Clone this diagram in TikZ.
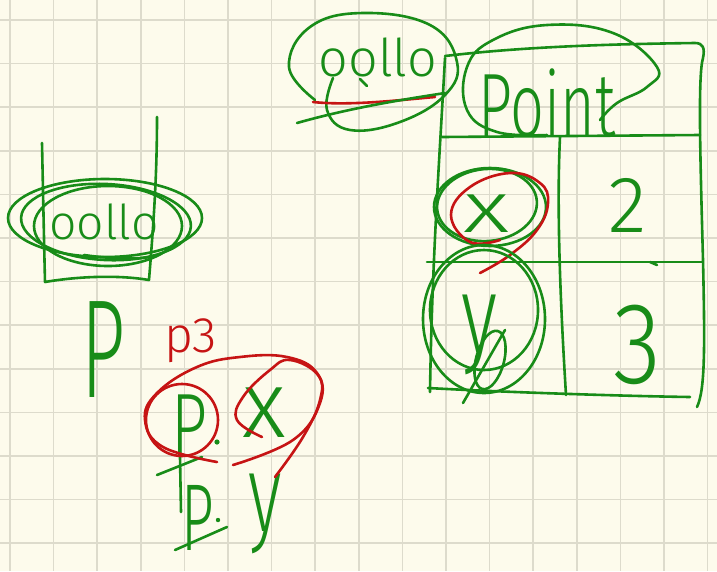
\documentclass[tikz,border=0pt]{standalone}
\usepackage{fontspec}
\IfFontExistsTF{Fira Sans Light}{\setmainfont{Fira Sans Light}}{\setmainfont{Fira Sans}}
\definecolor{paper}{RGB}{253,251,236}
\definecolor{gridc}{RGB}{221,219,204}
\definecolor{ink}{RGB}{24,140,24}
\definecolor{redink}{RGB}{198,20,20}
\tikzset{
  pen/.style={draw=ink, line width=2.6pt, line cap=round, line join=round},
  redpen/.style={pen, draw=redink},
  hand/.style={text=ink, inner sep=0pt, outer sep=0pt},
  redhand/.style={hand, text=redink},
}
\newcommand{\fsz}[1]{\fontsize{#1}{#1}\selectfont}
\begin{document}
\begin{tikzpicture}[x=1pt,y=-1pt]
% paper and squared grid
\fill[paper] (0,0) rectangle (717,571);
\useasboundingbox (0,0) rectangle (717,571);
\foreach \k in {0,...,16} \draw[gridc, line width=1.6pt] ({10+43.6*\k},0) -- ({10+43.6*\k},571);
\foreach \k in {0,...,12} \draw[gridc, line width=1.6pt] (0,{20+43.6*\k}) -- (717,{20+43.6*\k});

% ---- left: box holding 00110 ----
\draw[pen] (42,143) .. controls (43,190) and (44,240) .. (45,282)
  .. controls (80,276) and (120,275) .. (149,280)
  .. controls (153,230) and (157,180) .. (157,117);
\node[hand, font=\fsz{48}] (lbits) at (104,222) {oollo};
\draw[pen] (105,218) ellipse [x radius=97, y radius=39];
\draw[pen, rotate around={-3:(106,222)}] (106,222) ellipse [x radius=85, y radius=38];
\draw[pen] (108,226) ellipse [x radius=74, y radius=40];
\draw[pen] (84,255) .. controls (105,258) and (130,260) .. (150,257);

\node[hand, font=\fsz{140}, xscale=0.55] (bigP) at (103,350) {P};

% ---- left: p3 and its fields ----
\node[redhand, font=\fsz{50}, anchor=base] (pthree) at (191,352) {p3};
\node[hand, font=\fsz{90}, xscale=0.7] (fieldP) at (189,426) {P};
\fill[ink] (217,442) circle (2.6);
\draw[pen] (180,457) -- (181,512);
\draw[pen] (157,475) -- (202,457);
\node[hand, font=\fsz{95}, xscale=0.6] (fieldPb) at (198,518) {P};
\fill[ink] (218,520) circle (2.2);
\draw[pen] (175,550) -- (227,527);
\node[hand, font=\fsz{95}] (fieldx) at (264,413) {x};
\node[hand, font=\fsz{110}, xscale=0.65] (fieldy) at (265,514) {y};

% red loops
\draw[redpen] (182,420) circle (36);
\draw[redpen] plot[smooth, tension=0.7] coordinates {(217,462) (163,447) (145,420) (157,393) (197,367) (240,357) (287,357) (317,373) (320,403) (293,440) (233,465)};
\draw[redpen] plot[smooth, tension=0.7] coordinates {(262,437) (237,420) (243,397) (270,370) (290,360) (318,375) (320,400) (303,437) (275,477)};

% ---- right: 00110 tag ----
\node[hand, font=\fsz{52}] (rbits) at (378,57) {oollo};
\draw[pen] plot[smooth, tension=0.7] coordinates {(315,100) (289,67) (310,27) (363,13) (430,25) (457,62) (445,95) (400,122) (350,130) (327,110) (333,78)};
\draw[pen] (360,79) -- (367,86);
\draw[redpen] (313,102) .. controls (350,106) and (400,100) .. (435,97);
\draw[pen] (297,123) .. controls (350,108) and (400,100) .. (445,93);

% ---- right: Point table ----
\draw[pen] (445,56) .. controls (530,46) and (620,44) .. (695,43)
  .. controls (703,43) and (705,48) .. (703,58)
  .. controls (698,75) and (700,150) .. (703,260)
  .. controls (705,350) and (705,390) .. (697,407);
\draw[pen] (445,58) .. controls (440,150) and (432,260) .. (430,392);
\draw[pen] (442,137) -- (700,135);
\draw[pen] (560,137) .. controls (556,220) and (562,330) .. (566,395);
\draw[pen] (427,262) -- (702,262);
\draw[pen] (650,262) -- (657,265);
\draw[pen] (428,388) .. controls (500,392) and (620,396) .. (690,397);

\node[hand, font=\fsz{90}, xscale=0.66] (title) at (547,103) {Point};
\draw[pen] plot[smooth, tension=0.7] coordinates {(600,120) (617,103) (647,87) (657,67) (613,33) (547,25) (493,40) (467,67) (467,110) (497,132) (547,135)};

\node[hand, font=\fsz{72}, xscale=1.4] (cellx) at (487,214) {x};
\draw[pen] (490,207) ellipse [x radius=56, y radius=39];
\draw[pen, rotate around={5:(487,205)}] (487,205) ellipse [x radius=50, y radius=36];
\draw[redpen] plot[smooth, tension=0.7] coordinates {(500,240) (470,242) (451,215) (470,187) (510,173) (540,183) (548,203) (537,230) (510,255) (480,273)};

\node[hand, font=\fsz{110}, xscale=0.7] (celly) at (480,335) {y};
\draw[pen] (484,319) ellipse [x radius=61, y radius=74];
\draw[pen] (484,310) ellipse [x radius=54, y radius=60];
\draw[pen, rotate around={-15:(490,360)}] (490,360) ellipse [x radius=14, y radius=30];
\draw[pen] (463,403) -- (505,330);

\node[hand, font=\fsz{80}] (two) at (628,205) {2};
\node[hand, font=\fsz{116}, xscale=0.85] (three) at (637,345) {3};
\end{tikzpicture}
\end{document}
